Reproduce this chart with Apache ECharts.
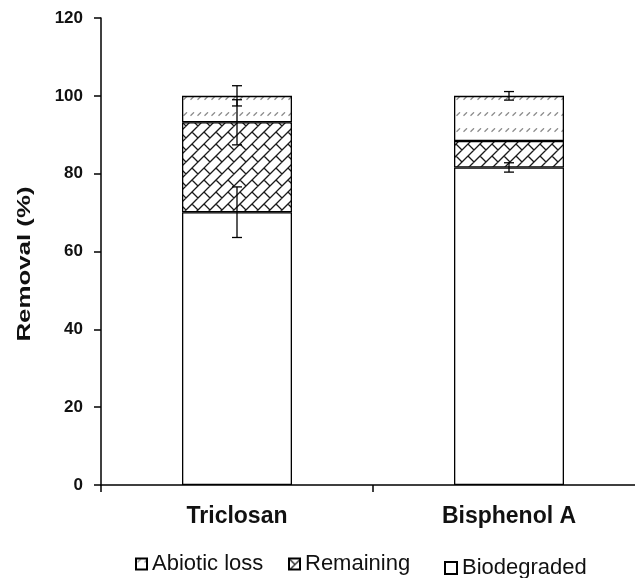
<!DOCTYPE html>
<html>
<head>
<meta charset="utf-8">
<script src="https://cdn.jsdelivr.net/npm/echarts@6/dist/echarts.min.js"></script>
<style>html,body{margin:0;padding:0;background:#fff;}#c{width:635px;height:578px;}</style>
</head>
<body>
<div id="c"></div>
<script>
// ---- data ----
var categories = ['Triclosan', 'Bisphenol A'];
var biodegraded = [70.1, 81.6];
var remaining = [23.1, 6.8];
var abiotic = [6.8, 11.6];
var biodegradedErr = [6.5, 1.2];
var remainingErr = [5.8, 0];
var abioticErr = [2.6, 1.1];
var yTicks = [0, 20, 40, 60, 80, 100, 120];
var yTitle = 'Removal (%)';

// ---- patterns ----
function hatchPattern() {
  var T = 24, c = document.createElement('canvas');
  c.width = T; c.height = T;
  var g = c.getContext('2d');
  g.fillStyle = '#fff'; g.fillRect(0, 0, T, T);
  g.strokeStyle = '#1a1a1a'; g.lineWidth = 1.3; g.lineCap = 'butt';
  g.beginPath();
  for (var u = -12; u <= 60; u += 12) {
    g.moveTo(-6, u + 6); g.lineTo(T + 6, u - T - 6);
  }
  for (var k = -4; k <= 8; k++) {
    var off = (Math.abs(k) % 2) ? 12 : 0;
    for (var j = -4; j <= 4; j++) {
      var v = 24 * j + off;
      var u0 = 12 * k, u1 = 12 * k + 12;
      g.moveTo((u0 + v) / 2, (u0 - v) / 2);
      g.lineTo((u1 + v) / 2, (u1 - v) / 2);
    }
  }
  g.stroke();
  return c;
}
function dashPattern() {
  var W = 7, H = 16, c = document.createElement('canvas');
  c.width = W; c.height = H;
  var g = c.getContext('2d');
  g.fillStyle = '#fff'; g.fillRect(0, 0, W, H);
  g.strokeStyle = '#8a8a8a'; g.lineWidth = 1.3;
  g.beginPath();
  g.moveTo(1.5, 3.8); g.lineTo(5, 0.3);
  g.stroke();
  return c;
}

var chart = echarts.init(document.getElementById('c'), null, {renderer: 'canvas'});
var F = 'Liberation Sans, Arial, sans-serif';

var errData = [];
for (var i = 0; i < categories.length; i++) {
  var t1 = biodegraded[i], t2 = t1 + remaining[i], t3 = t2 + abiotic[i];
  errData.push([i, t1, biodegradedErr[i]]);
  errData.push([i, t2, remainingErr[i]]);
  errData.push([i, t3, abioticErr[i]]);
}

var border = {borderColor: '#000', borderWidth: 1.3};
var legText = {fontFamily: F, fontSize: 22, color: '#111'};

chart.setOption({
  animation: false,
  backgroundColor: '#fff',
  grid: {left: 101, top: 18, bottom: 93, right: -10, outerBoundsMode: 'none', containLabel: false},
  graphic: [{
    type: 'text', x: 25, y: 264, rotation: Math.PI / 2, scaleX: 1.36, scaleY: 1,
    style: {text: yTitle, font: 'bold 19px ' + F, fill: '#111', align: 'center', verticalAlign: 'middle'}
  }],
  legend: [
    {data: ['Abiotic loss'], left: 130, top: 548, icon: 'rect', itemWidth: 11, itemHeight: 11, itemGap: 0, textStyle: legText},
    {data: ['Remaining'], left: 283, top: 548, icon: 'rect', itemWidth: 11, itemHeight: 11, itemGap: 0, textStyle: legText},
    {data: ['Biodegraded'], left: 439, top: 552, icon: 'rect', itemWidth: 12, itemHeight: 12, itemGap: 0, textStyle: legText}
  ],
  xAxis: {
    type: 'category', data: categories,
    axisLine: {lineStyle: {color: '#000', width: 1.5}},
    axisTick: {show: true, length: 7, lineStyle: {color: '#000', width: 1.5}},
    axisLabel: {fontFamily: F, fontSize: 23, fontWeight: 'bold', color: '#111', margin: 20}
  },
  yAxis: {
    type: 'value', min: 0, max: 120, interval: 20,
    axisLine: {show: true, lineStyle: {color: '#000', width: 1.5}},
    axisTick: {show: true, length: 7, lineStyle: {color: '#000', width: 1.5}},
    splitLine: {show: false},
    axisLabel: {fontFamily: F, fontSize: 17, fontWeight: 'bold', color: '#111', margin: 18,
      formatter: function (v) { return yTicks.indexOf(v) >= 0 ? String(v) : ''; }}
  },
  series: [
    {name: 'Biodegraded', type: 'bar', stack: 's', barWidth: 110, data: biodegraded,
     itemStyle: Object.assign({color: '#fff'}, border)},
    {name: 'Remaining', type: 'bar', stack: 's', barWidth: 110, data: remaining,
     itemStyle: Object.assign({color: {image: hatchPattern(), repeat: 'repeat'}}, border)},
    {name: 'Abiotic loss', type: 'bar', stack: 's', barWidth: 110, data: abiotic,
     itemStyle: Object.assign({color: {image: dashPattern(), repeat: 'repeat'}}, border)},
    {
      name: 'err', type: 'custom', data: errData, z: 10,
      encode: {x: 0, y: 1},
      renderItem: function (params, api) {
        var e = api.value(2);
        if (!e) return null;
        var c = api.value(0), v = api.value(1);
        var hi = api.coord([c, v + e]);
        var lo = api.coord([c, v - e]);
        var hw = 5;
        var st = {stroke: '#000', lineWidth: 1.3};
        return {type: 'group', children: [
          {type: 'line', shape: {x1: hi[0], y1: hi[1], x2: lo[0], y2: lo[1]}, style: st},
          {type: 'line', shape: {x1: hi[0] - hw, y1: hi[1], x2: hi[0] + hw, y2: hi[1]}, style: st},
          {type: 'line', shape: {x1: lo[0] - hw, y1: lo[1], x2: lo[0] + hw, y2: lo[1]}, style: st}
        ]};
      }
    }
  ]
});
</script>
</body>
</html>
